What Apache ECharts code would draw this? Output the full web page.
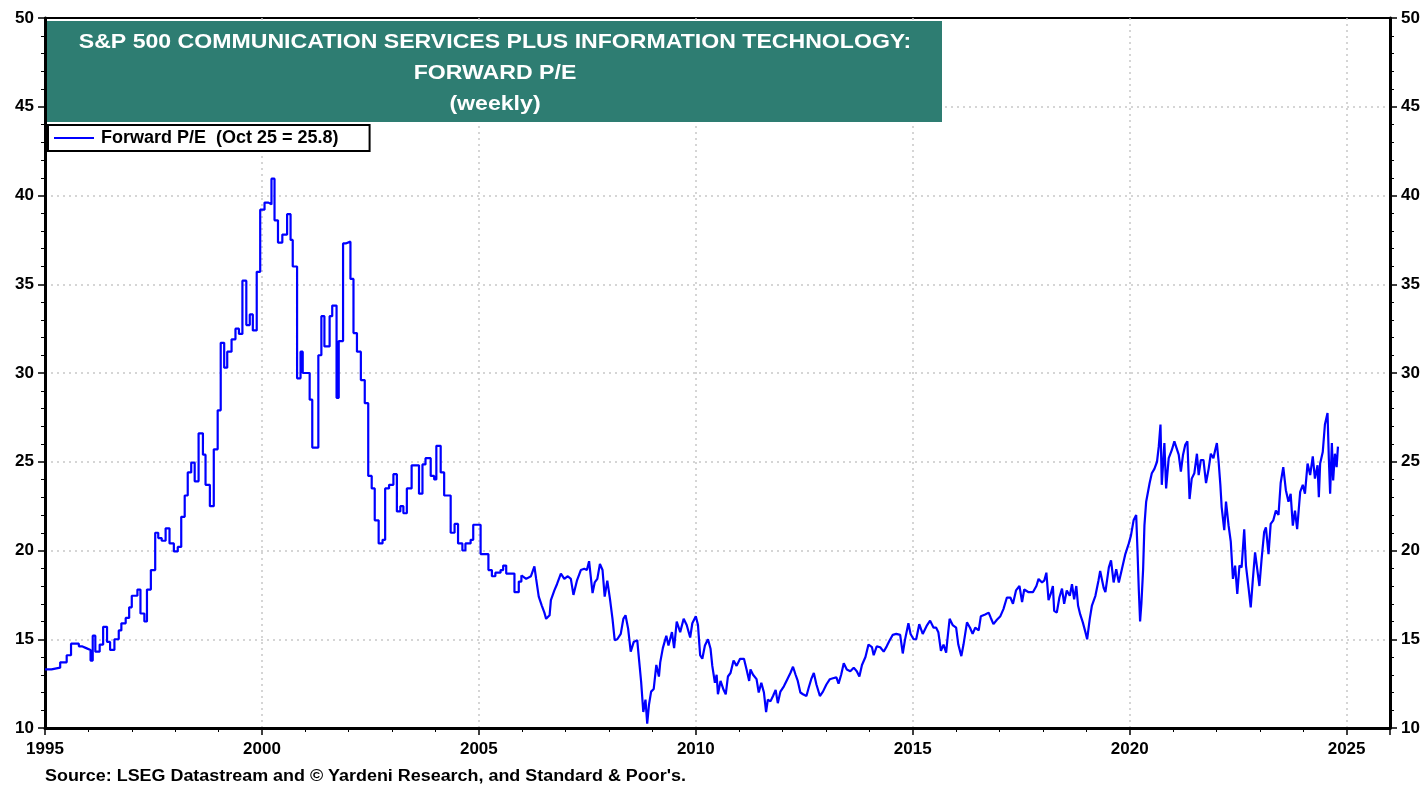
<!DOCTYPE html>
<html>
<head>
<meta charset="utf-8">
<title>S&amp;P 500 Communication Services plus Information Technology: Forward P/E</title>
<script src="https://cdn.jsdelivr.net/npm/echarts@6/dist/echarts.min.js"></script>
<style>
  html, body { margin: 0; padding: 0; background: #fff; }
  #chart { width: 1426px; height: 787px; }
</style>
</head>
<body>
<div id="chart"></div>
<script>
// monthly steps, 1995 - 2005 (decimal years)
const stepYears = [
  1995.00, 1995.15, 1995.35, 1995.50, 1995.60, 1995.78, 1995.85, 1995.95, 1996.05, 1996.10,
  1996.16, 1996.26, 1996.34, 1996.43, 1996.50, 1996.60, 1996.70, 1996.76, 1996.86, 1996.94,
  1997.00, 1997.13, 1997.20, 1997.29, 1997.35, 1997.44, 1997.54, 1997.61, 1997.69, 1997.78,
  1997.87, 1997.97, 1998.06, 1998.14, 1998.22, 1998.29, 1998.37, 1998.45, 1998.54, 1998.64,
  1998.70, 1998.80, 1998.89, 1998.98, 1999.05, 1999.13, 1999.20, 1999.30, 1999.39, 1999.47,
  1999.55, 1999.64, 1999.72, 1999.79, 1999.88, 1999.96, 2000.06, 2000.15, 2000.22, 2000.29,
  2000.37, 2000.47, 2000.58, 2000.66, 2000.71, 2000.81, 2000.89, 2000.94, 2001.10, 2001.16,
  2001.30, 2001.37, 2001.44, 2001.56, 2001.62, 2001.72, 2001.77, 2001.87, 2001.93, 2002.04,
  2002.11, 2002.19, 2002.28, 2002.37, 2002.45, 2002.53, 2002.60, 2002.69, 2002.78, 2002.84,
  2002.93, 2003.03, 2003.11, 2003.19, 2003.26, 2003.34, 2003.45, 2003.55, 2003.62, 2003.70,
  2003.77, 2003.89, 2003.97, 2004.02, 2004.12, 2004.20, 2004.35, 2004.44, 2004.52, 2004.62,
  2004.69, 2004.81, 2004.87, 2005.04, 2005.22, 2005.30, 2005.38, 2005.50, 2005.56, 2005.63,
  2005.82, 2005.92, 2005.98
];
const stepPE = [
  13.3, 13.4, 13.7, 14.1, 14.75, 14.6, 14.5, 14.4, 13.8, 15.2,
  14.3, 14.7, 15.7, 14.85, 14.4, 15.0, 15.5, 15.9, 16.2, 16.8,
  17.45, 17.8, 16.45, 16.0, 17.8, 18.9, 21.0, 20.7, 20.55, 21.25,
  20.4, 19.95, 20.2, 21.9, 23.1, 24.4, 24.95, 23.9, 26.6, 25.4,
  23.7, 22.5, 25.7, 27.9, 31.7, 30.3, 31.2, 31.9, 32.5, 32.2,
  35.2, 32.7, 33.3, 32.4, 35.7, 39.2, 39.6, 39.5, 40.95, 38.6,
  37.35, 37.8, 38.95, 37.5, 36.0, 29.7, 31.2, 30.0, 28.5, 25.8,
  31.0, 33.2, 31.5, 33.2, 33.8, 28.6, 31.8, 37.3, 37.4, 35.3,
  32.25, 31.2, 29.6, 28.3, 24.2, 23.5, 21.7, 20.4, 20.6, 23.5,
  23.7, 24.3, 22.2, 22.5, 22.1, 23.5, 24.8, 24.8, 23.2, 24.85,
  25.2, 24.2, 24.0, 25.9, 24.4, 23.1, 21.0, 21.5, 20.4, 20.0,
  20.4, 20.6, 21.45, 19.8, 18.9, 18.55, 18.75, 18.9, 19.15, 18.7,
  17.65, 18.25, 18.6
];

// weekly readings, 2006 - 2024
const weeklyYears = [
  2005.98, 2006.09, 2006.20, 2006.28, 2006.32, 2006.38, 2006.45, 2006.51, 2006.55, 2006.63,
  2006.66, 2006.74, 2006.80, 2006.89, 2006.97, 2007.05, 2007.12, 2007.18, 2007.26, 2007.35,
  2007.43, 2007.49, 2007.54, 2007.62, 2007.67, 2007.73, 2007.79, 2007.85, 2007.90, 2007.96,
  2008.02, 2008.08, 2008.13, 2008.19, 2008.27, 2008.33, 2008.38, 2008.44, 2008.50, 2008.57,
  2008.65, 2008.69, 2008.74, 2008.79, 2008.84, 2008.88, 2008.92, 2008.97, 2009.03, 2009.09,
  2009.15, 2009.18, 2009.24, 2009.32, 2009.37, 2009.45, 2009.50, 2009.56, 2009.64, 2009.72,
  2009.79, 2009.87, 2009.92, 2010.00, 2010.05, 2010.10, 2010.15, 2010.21, 2010.28, 2010.34,
  2010.38, 2010.44, 2010.48, 2010.51, 2010.57, 2010.64, 2010.69, 2010.74, 2010.80, 2010.87,
  2010.94, 2011.02, 2011.11, 2011.17, 2011.23, 2011.26, 2011.32, 2011.40, 2011.45, 2011.51,
  2011.57, 2011.62, 2011.66, 2011.72, 2011.78, 2011.84, 2011.89, 2011.95, 2012.03, 2012.11,
  2012.18, 2012.24, 2012.30, 2012.35, 2012.41, 2012.47, 2012.55, 2012.60, 2012.66, 2012.72,
  2012.78, 2012.86, 2012.93, 2013.01, 2013.09, 2013.16, 2013.24, 2013.29, 2013.35, 2013.41,
  2013.48, 2013.56, 2013.64, 2013.71, 2013.77, 2013.83, 2013.91, 2013.98, 2014.06, 2014.10,
  2014.17, 2014.25, 2014.33, 2014.40, 2014.46, 2014.54, 2014.62, 2014.71, 2014.77, 2014.82,
  2014.90, 2014.95, 2015.02, 2015.08, 2015.15, 2015.23, 2015.32, 2015.40, 2015.48, 2015.54,
  2015.59, 2015.65, 2015.71, 2015.77, 2015.80, 2015.85, 2015.92, 2016.00, 2016.05, 2016.12,
  2016.17, 2016.25, 2016.32, 2016.38, 2016.44, 2016.52, 2016.57, 2016.67, 2016.75, 2016.80,
  2016.86, 2016.94, 2017.02, 2017.09, 2017.17, 2017.25, 2017.31, 2017.38, 2017.46, 2017.52,
  2017.57, 2017.67, 2017.77, 2017.85, 2017.90, 2017.98, 2018.03, 2018.08, 2018.13, 2018.18,
  2018.23, 2018.26, 2018.32, 2018.38, 2018.44, 2018.49, 2018.55, 2018.62, 2018.67, 2018.72,
  2018.77, 2018.81, 2018.86, 2018.92, 2018.98, 2019.02, 2019.08, 2019.13, 2019.21, 2019.28,
  2019.32, 2019.40, 2019.44, 2019.52, 2019.57, 2019.63, 2019.69, 2019.75, 2019.82, 2019.90,
  2019.98, 2020.03, 2020.09, 2020.15, 2020.18, 2020.21, 2020.24, 2020.27, 2020.31, 2020.34,
  2020.38, 2020.46, 2020.51, 2020.57, 2020.63, 2020.67, 2020.71, 2020.74, 2020.80, 2020.84,
  2020.90, 2020.97, 2021.03, 2021.07, 2021.13, 2021.18, 2021.23, 2021.28, 2021.33, 2021.38,
  2021.43, 2021.49, 2021.55, 2021.59, 2021.64, 2021.70, 2021.76, 2021.82, 2021.87, 2021.93,
  2021.97, 2022.01, 2022.05, 2022.09, 2022.12, 2022.18, 2022.22, 2022.28, 2022.33, 2022.38,
  2022.43, 2022.48, 2022.53, 2022.58, 2022.64, 2022.68, 2022.74, 2022.79, 2022.84, 2022.89,
  2022.94, 2022.99, 2023.04, 2023.10, 2023.14, 2023.20, 2023.25, 2023.31, 2023.37, 2023.43,
  2023.48, 2023.54, 2023.60, 2023.66, 2023.71, 2023.76, 2023.81, 2023.86, 2023.93, 2023.99,
  2024.04, 2024.10, 2024.16, 2024.22, 2024.27, 2024.33, 2024.36, 2024.39, 2024.45, 2024.50,
  2024.56, 2024.59, 2024.62, 2024.66, 2024.69, 2024.73, 2024.77, 2024.80
];
const weeklyPE = [
  18.6, 18.4, 18.55, 19.1, 18.4, 17.4, 16.9, 16.5, 16.15, 16.35,
  17.2, 17.75, 18.1, 18.7, 18.4, 18.55, 18.4, 17.5, 18.3, 18.9,
  18.97, 18.9, 19.4, 17.6, 18.2, 18.4, 19.25, 18.9, 17.4, 18.3,
  17.3, 16.15, 14.95, 15.0, 15.3, 16.15, 16.35, 15.6, 14.3, 14.85,
  14.95, 13.9, 12.6, 10.9, 11.6, 10.25, 11.3, 12.05, 12.2, 13.55,
  12.9, 13.7, 14.5, 15.2, 14.65, 15.4, 14.5, 16.0, 15.4, 16.15,
  15.8, 15.1, 15.9, 16.3, 15.8, 14.1, 13.9, 14.65, 15.0, 14.46,
  13.5, 12.55, 13.0, 11.9, 12.65, 12.15, 11.9, 12.9, 13.1, 13.8,
  13.5, 13.9, 13.9, 13.3, 12.65, 13.3, 13.0, 12.75, 12.0, 12.55,
  12.0, 10.9, 11.6, 11.5, 11.8, 12.15, 11.4, 12.05, 12.35, 12.75,
  13.1, 13.45, 13.0, 12.65, 12.0, 11.9, 11.8, 12.25, 12.75, 13.1,
  12.45, 11.8, 12.05, 12.45, 12.75, 12.8, 12.85, 12.5, 13.0, 13.65,
  13.3, 13.2, 13.4, 13.2, 12.9, 13.55, 14.0, 14.7, 14.55, 14.1,
  14.6, 14.55, 14.3, 14.6, 14.9, 15.25, 15.3, 15.25, 14.2, 14.95,
  15.9, 15.3, 15.0, 15.0, 15.85, 15.3, 15.75, 16.05, 15.65, 15.65,
  15.4, 14.35, 14.7, 14.25, 15.0, 16.15, 15.8, 15.65, 14.7, 14.05,
  14.7, 15.95, 15.65, 15.3, 15.65, 15.5, 16.3, 16.4, 16.5, 16.2,
  15.85, 16.1, 16.3, 16.7, 17.35, 17.35, 17.0, 17.75, 18.0, 17.1,
  17.8, 17.65, 17.65, 18.0, 18.4, 18.2, 18.3, 18.75, 17.2, 17.55,
  18.0, 16.6, 16.5, 17.35, 17.85, 17.0, 17.75, 17.45, 18.1, 17.25,
  18.0, 16.9, 16.4, 15.95, 15.4, 15.0, 16.15, 16.9, 17.45, 18.3,
  18.85, 17.9, 17.65, 19.05, 19.45, 18.2, 18.95, 18.2, 18.95, 19.8,
  20.4, 20.85, 21.7, 22.0, 20.0, 17.8, 16.0, 17.0, 18.95, 21.4,
  22.75, 23.8, 24.35, 24.6, 25.0, 25.85, 27.1, 23.7, 26.05, 23.5,
  25.2, 25.65, 26.15, 26.25, 25.4, 24.45, 25.4, 25.95, 26.15, 22.9,
  24.05, 24.35, 25.45, 24.25, 25.1, 25.1, 23.8, 24.6, 25.45, 25.2,
  25.65, 26.05, 25.0, 23.7, 22.45, 21.15, 22.75, 21.4, 20.5, 18.4,
  19.15, 17.55, 19.15, 19.05, 21.2, 19.15, 17.9, 16.8, 18.4, 19.9,
  18.95, 18.0, 19.5, 21.05, 21.3, 19.8, 21.5, 21.7, 22.25, 22.0,
  23.8, 24.7, 23.4, 22.75, 23.2, 21.4, 22.25, 21.2, 23.3, 23.7,
  23.2, 24.9, 24.25, 25.3, 24.05, 24.8, 23.0, 24.9, 25.55, 27.1,
  27.75, 25.2, 23.2, 26.05, 23.95, 25.45, 24.7, 25.85
];

const seriesName = 'Forward P/E  (Oct 25 = 25.8)';
const titleLines = [
  'S&P 500 COMMUNICATION SERVICES PLUS INFORMATION TECHNOLOGY:',
  'FORWARD P/E',
  '(weekly)',
];
const sourceNote = 'Source: LSEG Datastream and \u00a9 Yardeni Research, and Standard & Poor\'s.';

const FONT = 'Arial, "Liberation Sans", sans-serif';
const LINE_BLUE = '#0000ff';
const GRID_DOTS = { color: '#c8c8c8', type: [2, 4], width: 1.5 };

const toPairs = (xs, ys) => xs.map((x, i) => [x, ys[i]]);

const chartInstance = echarts.init(document.getElementById('chart'), null, { renderer: 'canvas' });

const yAxisBase = {
  type: 'value',
  min: 10,
  max: 50,
  interval: 5,
  axisLine: { show: true, lineStyle: { color: '#000', width: 3 } },
  axisTick: { show: true, length: 7, lineStyle: { color: '#000', width: 1.5 } },
  minorTick: { show: true, splitNumber: 5, length: 4, lineStyle: { color: '#000', width: 1 } },
  axisLabel: { color: '#000', fontFamily: FONT, fontWeight: 'bold', fontSize: 17, margin: 11 },
};

const option = {
  animation: false,
  backgroundColor: '#fff',
  grid: {
    left: 45,
    right: 36,
    top: 18,
    bottom: 59,
    show: true,
    borderColor: '#000',
    borderWidth: 2,
    backgroundColor: 'transparent',
  },
  legend: {
    data: [seriesName],
    left: 48,
    top: 125,
    orient: 'horizontal',
    icon: 'rect',
    backgroundColor: '#fff',
    borderColor: '#000',
    borderWidth: 2,
    borderRadius: 0,
    padding: [4, 31, 4, 6],
    itemWidth: 40,
    itemHeight: 2,
    itemGap: 6,
    textStyle: { color: '#000', fontFamily: FONT, fontWeight: 'bold', fontSize: 18, padding: [0, 0, 0, 2] },
  },
  xAxis: {
    type: 'value',
    min: 1995,
    max: 2026,
    interval: 5,
    axisLine: { show: true, lineStyle: { color: '#000', width: 3 } },
    axisTick: { show: true, length: 7, lineStyle: { color: '#000', width: 1.5 } },
    minorTick: { show: true, splitNumber: 5, length: 4, lineStyle: { color: '#000', width: 1 } },
    axisLabel: {
      color: '#000', fontFamily: FONT, fontWeight: 'bold', fontSize: 17, margin: 13,
      formatter: (v) => (v <= 2025 ? String(v) : ''),
    },
    splitLine: { show: true, showMinLine: false, showMaxLine: false, lineStyle: GRID_DOTS },
  },
  yAxis: [
    Object.assign({}, yAxisBase, {
      position: 'left',
      splitLine: { show: true, showMinLine: false, showMaxLine: false, lineStyle: GRID_DOTS },
    }),
    Object.assign({}, yAxisBase, {
      position: 'right',
      splitLine: { show: false },
    }),
  ],
  series: [
    {
      name: seriesName,
      type: 'line',
      step: 'end',
      data: toPairs(stepYears, stepPE),
      symbol: 'none',
      lineStyle: { color: LINE_BLUE, width: 2.2 },
      itemStyle: { color: LINE_BLUE },
      z: 3,
    },
    {
      name: seriesName,
      type: 'line',
      data: toPairs(weeklyYears, weeklyPE),
      symbol: 'none',
      lineStyle: { color: LINE_BLUE, width: 2.2 },
      itemStyle: { color: LINE_BLUE },
      z: 3,
    },
  ],
  graphic: [
    {
      type: 'rect',
      shape: { x: 47, y: 21, width: 895, height: 101 },
      style: { fill: '#2e7d72' },
      z: 10,
    },
    ...titleLines.map((line, i) => ({
      type: 'text',
      x: 495,
      y: 42 + i * 31,
      scaleX: 1.1,
      style: {
        text: line,
        fill: '#fff',
        font: 'bold 21px ' + FONT,
        textAlign: 'center',
        textVerticalAlign: 'middle',
      },
      z: 11,
    })),
    {
      type: 'text',
      x: 45,
      y: 777,
      scaleX: 1.12,
      style: {
        text: sourceNote,
        fill: '#000',
        font: 'bold 16px ' + FONT,
        textAlign: 'left',
        textVerticalAlign: 'middle',
      },
      z: 11,
    },
  ],
};

chartInstance.setOption(option);
</script>
</body>
</html>
